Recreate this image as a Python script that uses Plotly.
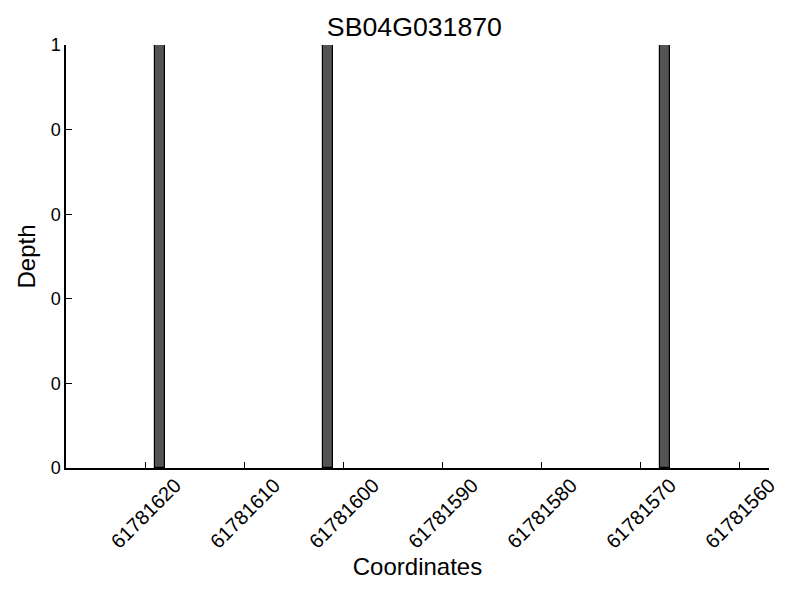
import plotly.graph_objects as go

title = "SB04G031870"
positions = [61781618, 61781601, 61781567]
depths = [1, 1, 1]
y_tickvals = [0, 0.2, 0.4, 0.6, 0.8, 1.0]
y_ticktext = ["0", "0", "0", "0", "0", "1"]
x_tickvals = [61781620, 61781610, 61781600, 61781590, 61781580, 61781570, 61781560]

fig = go.Figure()
fig.add_trace(go.Bar(
    x=positions, y=depths, width=1, offset=0,
    marker=dict(color="#545454", line=dict(color="black", width=1.2)),
))

font = "Liberation Sans, Arial, sans-serif"
fig.update_layout(
    width=800, height=600,
    margin=dict(l=66, r=31, t=45, b=132),
    plot_bgcolor="white", paper_bgcolor="white",
    showlegend=False,
    font=dict(family=font, color="black"),
    title=dict(text=title, x=0.518, xanchor="center", y=0.955, yanchor="middle",
               font=dict(size=26.7, family=font, color="black")),
    bargap=0,
)
fig.update_xaxes(
    range=[61781628, 61781557],
    tickvals=x_tickvals, ticktext=[str(v) for v in x_tickvals],
    tickangle=-45, ticks="inside", ticklen=6, tickcolor="black", tickwidth=1,
    ticklabelshift=-30, ticklabelstandoff=-4,
    showline=True, linecolor="black", linewidth=1.5,
    showgrid=False, zeroline=False,
    tickfont=dict(size=20, family=font),
    title=dict(text="Coordinates", font=dict(size=24, family=font), standoff=4),
)
fig.update_yaxes(
    range=[0, 1],
    tickvals=y_tickvals, ticktext=y_ticktext,
    ticks="inside", ticklen=6, tickcolor="black", tickwidth=1,
    showline=True, linecolor="black", linewidth=1.5,
    showgrid=False, zeroline=False,
    tickfont=dict(size=18, family=font),
    title=dict(text="Depth", font=dict(size=24, family=font), standoff=8),
)
fig.write_html("out.html", config={"displayModeBar": False},
               post_script="document.body.style.margin='0px';")
